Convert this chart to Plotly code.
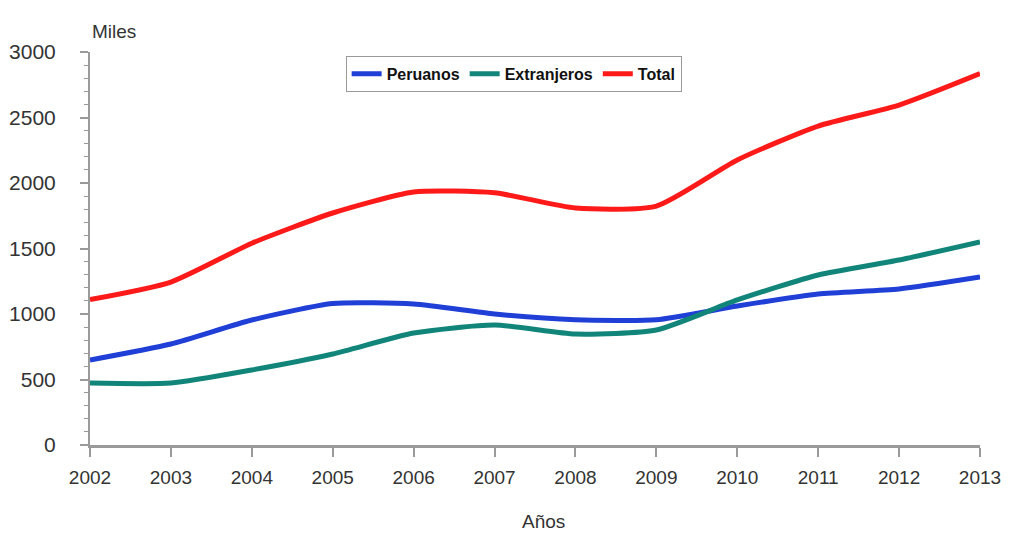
import plotly.graph_objects as go

years = [2002, 2003, 2004, 2005, 2006, 2007, 2008, 2009, 2010, 2011, 2012, 2013]
year_labels = ["2002", "2003", "2004", "2005", "2006", "2007", "2008", "2009",
               "2010", "2011", "2012", "2013"]
peruanos = [649, 771, 954, 1080, 1076, 1000, 956, 956, 1061, 1153, 1191, 1282]
extranjeros = [473, 473, 573, 695, 855, 916, 847, 878, 1107, 1298, 1412, 1550]
total = [1110, 1244, 1540, 1771, 1931, 1925, 1809, 1824, 2176, 2435, 2595, 2835]

series = [
    ("Peruanos", peruanos, "#1f3fd6"),
    ("Extranjeros", extranjeros, "#12857a"),
    ("Total", total, "#ff1a1a"),
]

fig = go.Figure()
for name, vals, col in series:
    fig.add_trace(go.Scatter(
        x=years, y=vals, name=name, mode="lines",
        line=dict(color=col, width=5, shape="spline", smoothing=0.6),
    ))

fig.update_layout(
    width=1002, height=524,
    margin=dict(l=82, r=30, t=44, b=87, autoexpand=False),
    paper_bgcolor="white", plot_bgcolor="white",
    font=dict(family="Liberation Sans, Arial, sans-serif", size=19, color="#333333"),
    showlegend=True,
    legend=dict(
        orientation="h", x=0.476, y=0.99, xanchor="center", yanchor="top",
        bordercolor="#9a9a9a", borderwidth=1, bgcolor="white",
        font=dict(size=16, color="#111111", family="Liberation Sans, Arial, sans-serif", weight="bold"),
        itemwidth=30, tracegroupgap=0,
    ),
    xaxis=dict(
        range=[2002, 2013], tickmode="array", tickvals=years,
        ticktext=year_labels,
        showgrid=False, zeroline=False, showline=True, linecolor="#9a9a9a", linewidth=3,
        ticks="outside", ticklen=9, tickcolor="#9a9a9a", tickwidth=2,
        ticklabelstandoff=4, automargin=False, ticklabeloverflow="allow",
        tickfont=dict(size=19),
    ),
    yaxis=dict(
        range=[0, 3000], tickvals=[0, 500, 1000, 1500, 2000, 2500, 3000],
        showgrid=False, zeroline=False, showline=True, linecolor="#9a9a9a", linewidth=2,
        ticks="outside", ticklen=8, tickcolor="#9a9a9a", tickwidth=2,
        ticklabelstandoff=20, automargin=False,
        tickfont=dict(size=21),
        minor=dict(dtick=100, ticks="outside", ticklen=4, tickcolor="#9a9a9a", tickwidth=1),
    ),
    annotations=[
        dict(
            text="Miles", xref="paper", yref="paper", x=0.0, y=1.0, xanchor="left", yanchor="bottom",
            yshift=8, showarrow=False, font=dict(size=19, color="#333333"),
        ),
        dict(
            text="Años", xref="paper", yref="paper", x=0.51, y=0.0, xanchor="center", yanchor="top",
            yshift=-64, showarrow=False, font=dict(size=19, color="#333333"),
        ),
    ],
)

fig.write_html("out.html")
